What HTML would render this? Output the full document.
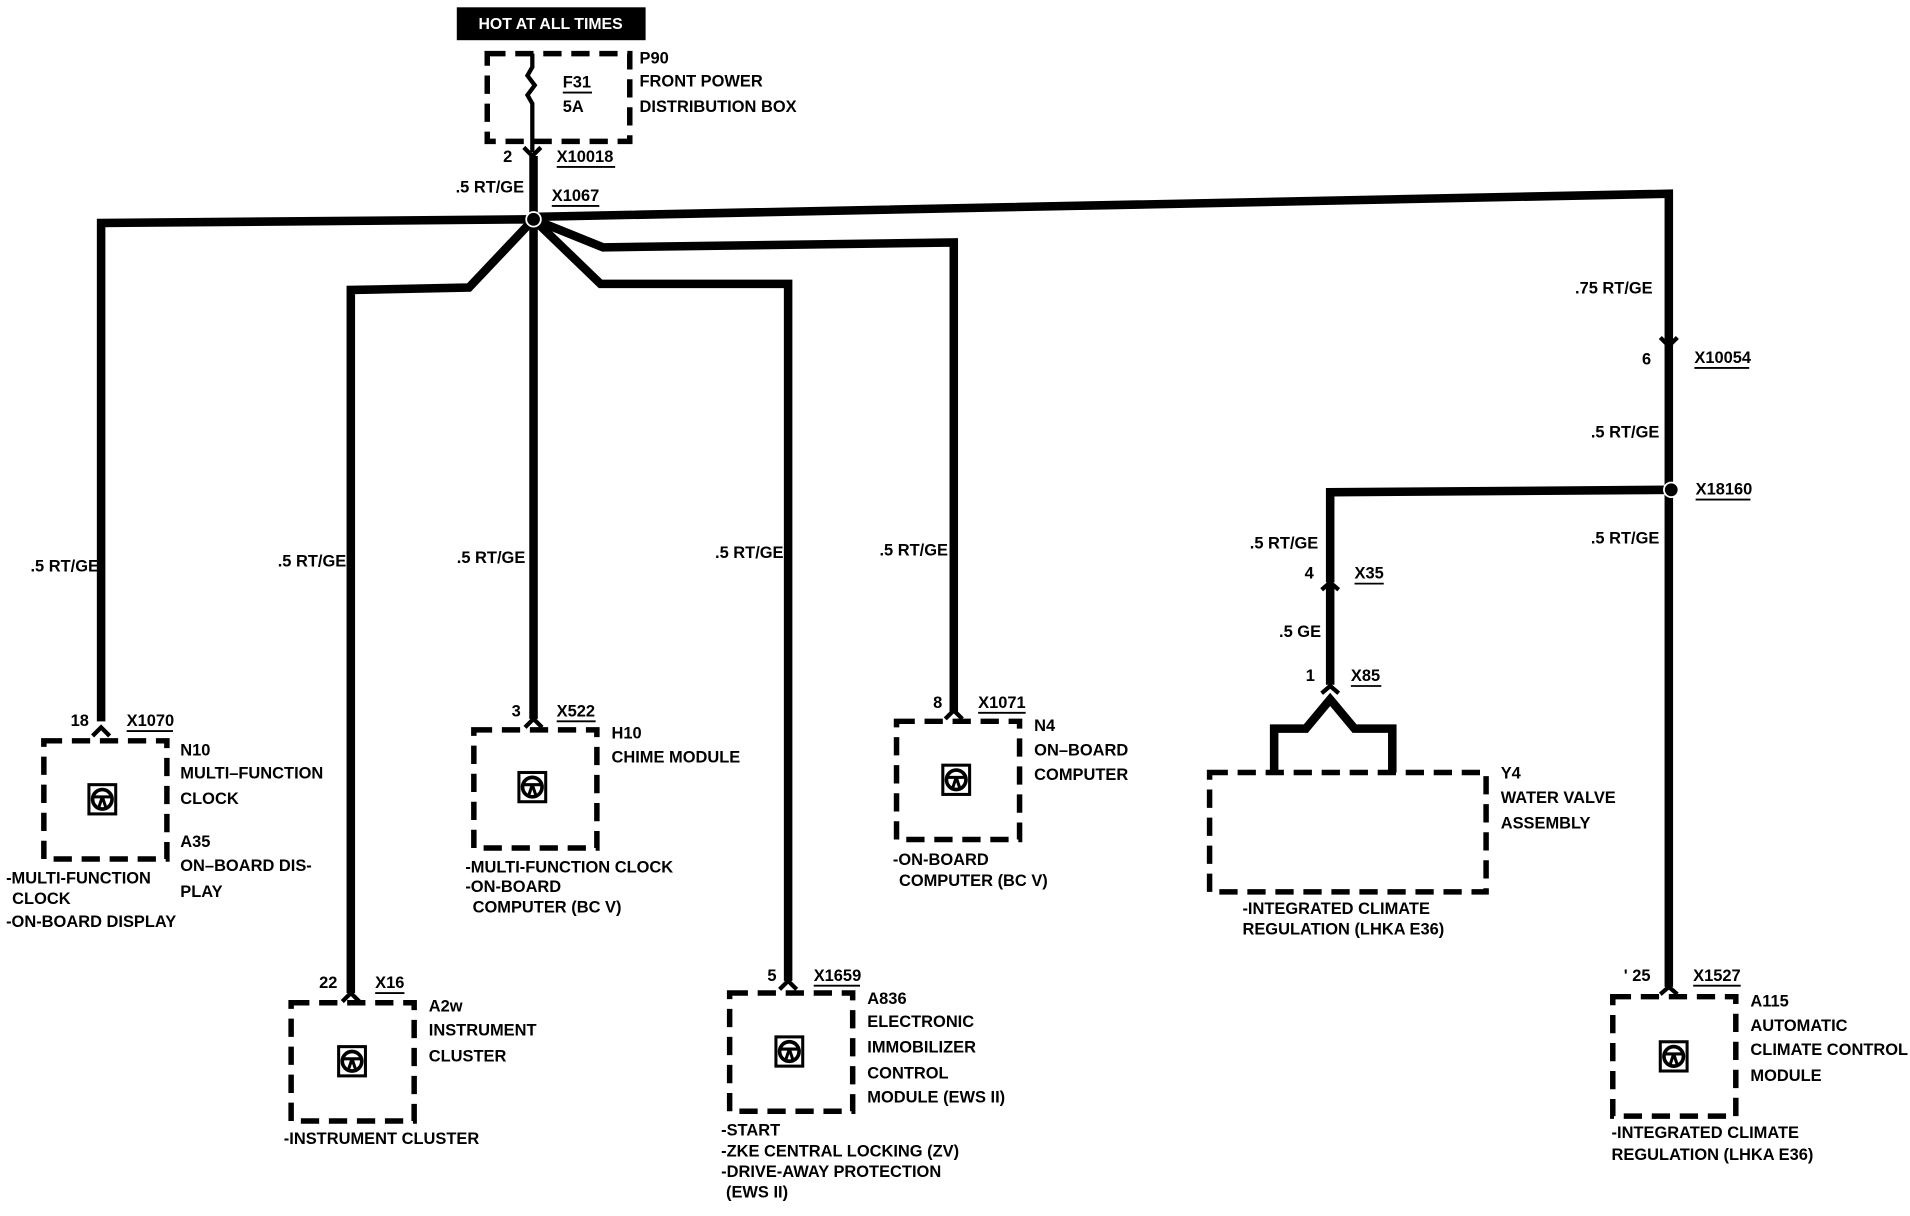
<!DOCTYPE html>
<html><head><meta charset="utf-8"><style>
html,body{margin:0;padding:0;background:#fff}
svg{display:block}
text{font-family:"Liberation Sans",sans-serif;font-weight:bold;font-size:13.5px;fill:#000}
.w{fill:none;stroke:#000;stroke-width:7;stroke-linejoin:miter}
.d{fill:none;stroke:#000;stroke-width:4.5;stroke-dasharray:15 8}
.c{fill:none;stroke:#000;stroke-width:3.5}
.u{stroke:#000;stroke-width:1.5}
</style></head><body>
<svg width="1910" height="1216" viewBox="0 0 1568 998" preserveAspectRatio="none" xmlns="http://www.w3.org/2000/svg">
<defs>
<g id="ic"><rect x="-11" y="-12" width="22" height="24" fill="none" stroke="#000" stroke-width="2.5"/><circle cx="0" cy="0" r="8" fill="none" stroke="#000" stroke-width="3"/><path d="M-7 -2 L7 -2 M0 -2 L-3 7 M0 -2 L3 7" stroke="#000" stroke-width="2.5" fill="none"/></g>
</defs>
<!-- HOT -->
<rect x="375" y="6" width="155" height="27" fill="#000"/>
<text x="452" y="24" text-anchor="middle" style="fill:#fff;font-size:13px">HOT AT ALL TIMES</text>
<!-- P90 -->
<rect class="d" x="400" y="44" width="117" height="72"/>
<path d="M437 44 L437 55 L433 62 L439 70 L433 78 L437 85 L437 125" class="c" stroke-width="4"/>
<text x="462" y="72">F31</text><line class="u" x1="462" y1="76" x2="486" y2="76"/>
<text x="462" y="92">5A</text>
<text x="525" y="52">P90</text><text x="525" y="71">FRONT POWER</text><text x="525" y="92">DISTRIBUTION BOX</text>
<path class="c" d="M430 121 L437 128 L444 121"/>
<text x="413" y="133">2</text><text x="457" y="133">X10018</text><line class="u" x1="457" y1="137" x2="505" y2="137"/>
<text x="374" y="158">.5 RT/GE</text><text x="453" y="165">X1067</text><line class="u" x1="453" y1="169" x2="492" y2="169"/>
<!-- wires -->
<path class="w" d="M438 128 L438 590"/>
<path class="w" d="M438 180 L83 183 L83 592"/>
<path class="w" d="M438 178 L1370 159 L1370 810"/>
<path class="w" d="M438 180 L385 236 L288 238 L288 815"/>
<path class="w" d="M438 180 L495 203 L783 199 L783 584"/>
<path class="w" d="M438 180 L493 233 L647 233 L647 805"/>
<circle cx="438" cy="180" r="6" fill="#000" stroke="#fff" stroke-width="1.5"/>
<!-- right -->
<text x="1293" y="241">.75 RT/GE</text>
<path class="c" d="M1363 277 L1370 284 L1377 277"/>
<text x="1348" y="299">6</text><text x="1391" y="298">X10054</text><line class="u" x1="1391" y1="302" x2="1436" y2="302"/>
<text x="1306" y="359">.5 RT/GE</text>
<path class="w" d="M1370 402 L1092 404 L1092 478"/>
<circle cx="1372" cy="402" r="6" fill="#000" stroke="#fff" stroke-width="1.5"/>
<text x="1392" y="406">X18160</text><line class="u" x1="1392" y1="410" x2="1437" y2="410"/>
<text x="1306" y="446">.5 RT/GE</text>
<text x="1026" y="450">.5 RT/GE</text>
<path class="c" d="M1085 484 L1092 478 L1099 484"/>
<text x="1071" y="475">4</text><text x="1112" y="475">X35</text><line class="u" x1="1112" y1="479" x2="1136" y2="479"/>
<path class="w" d="M1092 480 L1092 562"/>
<text x="1050" y="523">.5 GE</text>
<path class="c" d="M1085 569 L1092 563 L1099 569"/>
<text x="1072" y="559">1</text><text x="1109" y="559">X85</text><line class="u" x1="1109" y1="563" x2="1134" y2="563"/>
<path class="w" d="M1046 634 L1046 598 L1072 598 L1092 574 L1112 598 L1143 598 L1143 634"/>
<rect class="d" x="993" y="634" width="227" height="98"/>
<text x="1232" y="639">Y4</text><text x="1232" y="659">WATER VALVE</text><text x="1232" y="680">ASSEMBLY</text>
<text x="1020" y="750">-INTEGRATED CLIMATE</text><text x="1020" y="767">REGULATION (LHKA E36)</text>
<!-- A115 -->
<path class="c" d="M1363 816 L1370 810 L1377 816"/>
<text x="1333" y="805">' 25</text><text x="1390" y="805">X1527</text><line class="u" x1="1390" y1="809" x2="1429" y2="809"/>
<rect class="d" x="1324" y="818" width="101" height="98"/>
<use href="#ic" x="1374" y="867"/>
<text x="1437" y="826">A115</text><text x="1437" y="846">AUTOMATIC</text><text x="1437" y="866">CLIMATE CONTROL</text><text x="1437" y="887">MODULE</text>
<text x="1323" y="934">-INTEGRATED CLIMATE</text><text x="1323" y="952">REGULATION (LHKA E36)</text>
<!-- N10 -->
<path class="c" d="M76 604 L83 597 L90 604"/>
<text x="58" y="596">18</text><text x="104" y="596">X1070</text><line class="u" x1="104" y1="600" x2="142" y2="600"/>
<rect class="d" x="36" y="608" width="101" height="97"/>
<use href="#ic" x="84" y="656"/>
<text x="148" y="620">N10</text><text x="148" y="639">MULTI–FUNCTION</text><text x="148" y="660">CLOCK</text>
<text x="148" y="695">A35</text><text x="148" y="715">ON–BOARD DIS-</text><text x="148" y="736">PLAY</text>
<text x="5" y="725">-MULTI-FUNCTION</text><text x="10" y="742">CLOCK</text><text x="5" y="761">-ON-BOARD DISPLAY</text>
<!-- A2w -->
<path class="c" d="M281 822 L288 815 L295 822"/>
<text x="262" y="811">22</text><text x="308" y="811">X16</text><line class="u" x1="308" y1="815" x2="332" y2="815"/>
<rect class="d" x="239" y="823" width="101" height="97"/>
<use href="#ic" x="289" y="871"/>
<text x="352" y="830">A2w</text><text x="352" y="850">INSTRUMENT</text><text x="352" y="871">CLUSTER</text>
<text x="233" y="939">-INSTRUMENT CLUSTER</text>
<!-- H10 -->
<path class="c" d="M431 597 L438 590 L445 597"/>
<text x="420" y="588">3</text><text x="457" y="588">X522</text><line class="u" x1="457" y1="592" x2="489" y2="592"/>
<rect class="d" x="389" y="599" width="101" height="97"/>
<use href="#ic" x="437" y="646"/>
<text x="502" y="606">H10</text><text x="502" y="626">CHIME MODULE</text>
<text x="382" y="716">-MULTI-FUNCTION CLOCK</text><text x="382" y="732">-ON-BOARD</text><text x="388" y="749">COMPUTER (BC V)</text>
<!-- A836 -->
<path class="c" d="M640 812 L647 805 L654 812"/>
<text x="630" y="805">5</text><text x="668" y="805">X1659</text><line class="u" x1="668" y1="809" x2="706" y2="809"/>
<rect class="d" x="599" y="815" width="101" height="97"/>
<use href="#ic" x="648" y="863"/>
<text x="712" y="824">A836</text><text x="712" y="843">ELECTRONIC</text><text x="712" y="864">IMMOBILIZER</text><text x="712" y="885">CONTROL</text><text x="712" y="905">MODULE (EWS II)</text>
<text x="592" y="932">-START</text><text x="592" y="949">-ZKE CENTRAL LOCKING (ZV)</text><text x="592" y="966">-DRIVE-AWAY PROTECTION</text><text x="596" y="983">(EWS II)</text>
<!-- N4 -->
<path class="c" d="M776 590 L783 583 L790 590"/>
<text x="766" y="581">8</text><text x="803" y="581">X1071</text><line class="u" x1="803" y1="585" x2="842" y2="585"/>
<rect class="d" x="736" y="592" width="101" height="97"/>
<use href="#ic" x="785" y="640"/>
<text x="849" y="600">N4</text><text x="849" y="620">ON–BOARD</text><text x="849" y="640">COMPUTER</text>
<text x="733" y="710">-ON-BOARD</text><text x="738" y="727">COMPUTER (BC V)</text>
<!-- wire labels -->
<text x="25" y="469">.5 RT/GE</text><text x="228" y="465">.5 RT/GE</text><text x="375" y="462">.5 RT/GE</text><text x="587" y="458">.5 RT/GE</text><text x="722" y="456">.5 RT/GE</text>
</svg>
</body></html>
